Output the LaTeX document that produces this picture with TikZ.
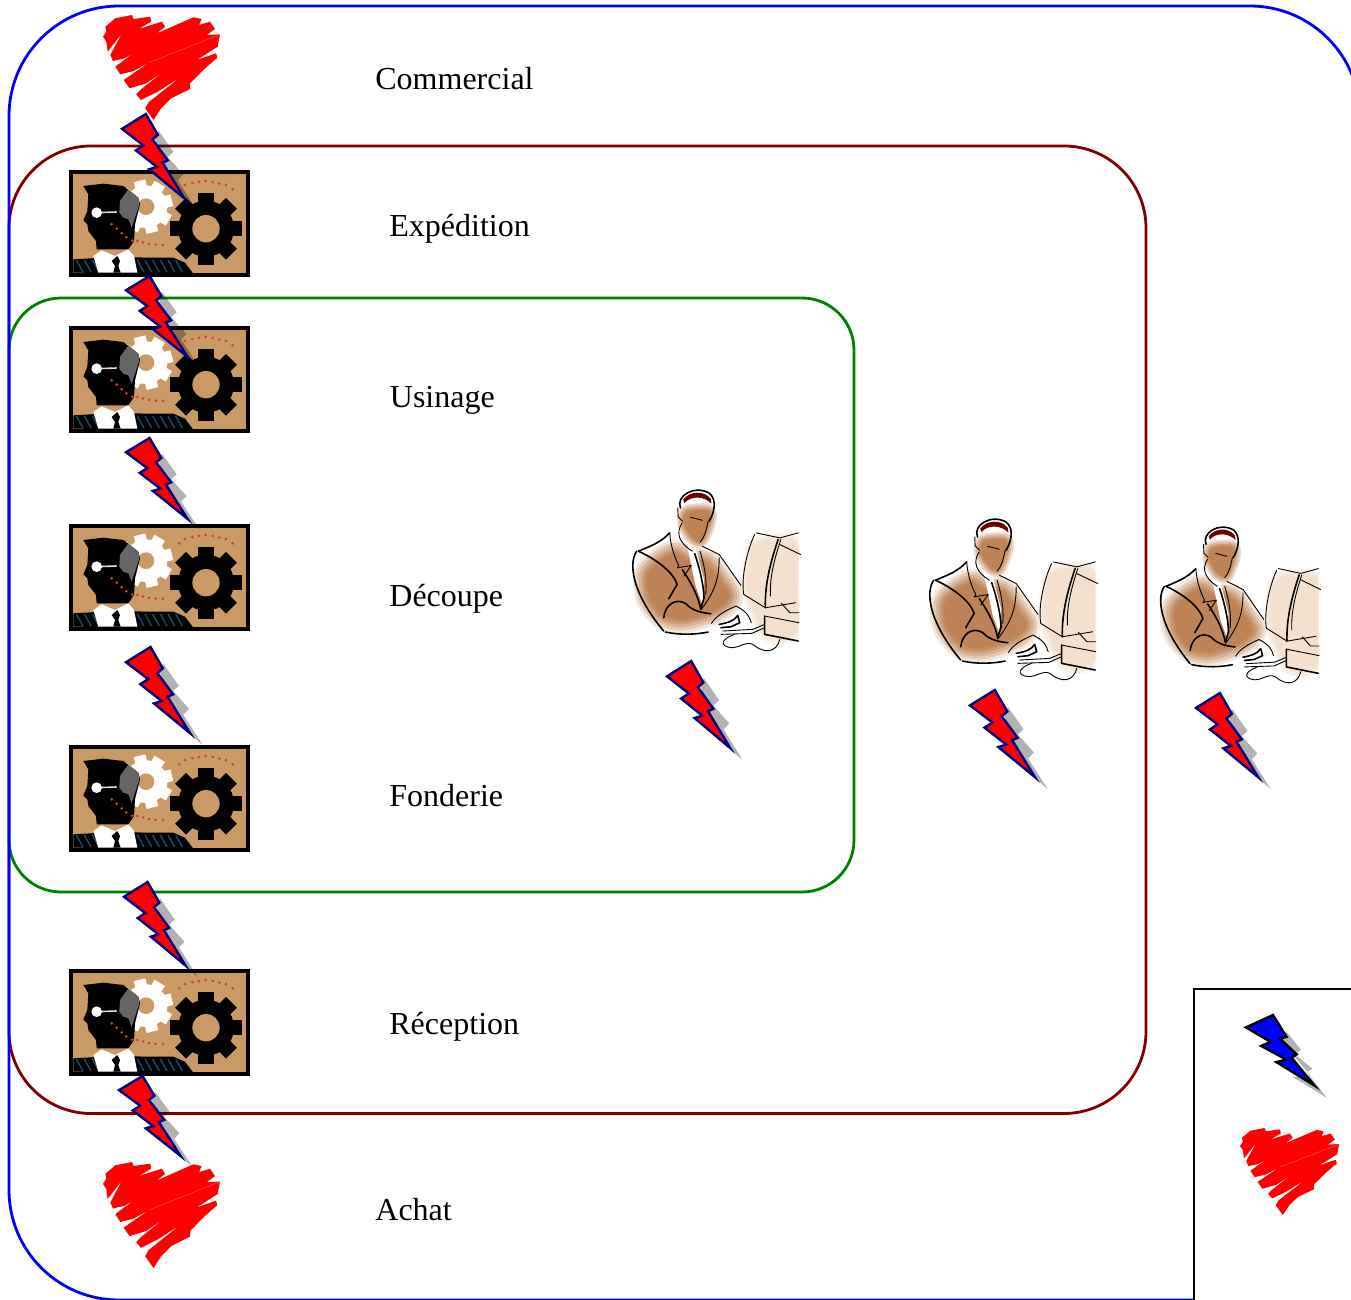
\documentclass[tikz,border=0pt]{standalone}
\usepackage{fontspec}
\setmainfont{Liberation Serif}
\definecolor{frameblue}{HTML}{0000FF}
\definecolor{framered}{HTML}{800000}
\definecolor{framegreen}{HTML}{008000}
\definecolor{tan}{HTML}{C99966}
\definecolor{skin}{HTML}{BE8457}
\definecolor{pale}{HTML}{F3E0CE}
\definecolor{dotred}{HTML}{D4402F}
\definecolor{hatchblue}{HTML}{14506C}
\tikzset{
  region/.style={line width=1.4pt,rounded corners=#1},
  label/.style={anchor=base west,inner sep=0pt,font=\fontsize{16}{18}\selectfont},
  ink/.style={black,line width=0.45pt,line cap=round,line join=round},
  inkb/.style={black,line width=0.8pt,line cap=round,line join=round},
}
% x0,y0,w,h : bounding box in pixels
\newcommand{\redbolt}[4]{%
  \begin{scope}[shift={(#1,#2)},xscale=#3/220,yscale=#4/284]
    \fill[black,opacity=.3] (110,50)--(155,115)--(138,130)--(185,183)--(168,200)--(225,290)--(150,225)--(100,75)--cycle;
    \filldraw[fill=red,draw=blue!50!black,line width=1.2pt,line join=miter]
      (0,45)--(72,0)--(108,63)--(92,77)--(138,140)--(122,147)--(188,255)--(82,167)--(105,160)--(42,110)--(65,95)--cycle;
  \end{scope}}
\newcommand{\bluebolt}[4]{%
  \begin{scope}[shift={(#1,#2)},xscale=#3/240,yscale=#4/247]
    \fill[black,opacity=.3] (120,50)--(163,103)--(145,117)--(197,160)--(180,170)--(240,247)--(140,185)--(190,180)--(100,70)--cycle;
    \filldraw[fill=blue,draw=black,line width=1.2pt,line join=miter]
      (0,37)--(80,0)--(120,65)--(100,70)--(150,117)--(135,127)--(203,210)--(90,140)--(120,133)--(45,92)--(73,80)--cycle;
  \end{scope}}
\newcommand{\heart}[4]{%
  \begin{scope}[shift={(#1,#2)},xscale=#3/355,yscale=#4/315]
    \fill[red,line join=round] (7,35)--(37,10)--(87,0)--(92,12)--(142,5)--(145,20)--(107,42)--(177,20)--(187,35)--(162,55)--(272,7)--(297,12)--(289,30)--(322,20)--(337,42)--(312,60)--(352,58)--(345,95)--(282,135)--(340,115)--(344,128)--(307,160)--(262,205)--(262,222)--(205,250)--(175,280)--(152,315)--(127,280)--(137,262)--(232,187)--(165,230)--(114,255)--(100,238)--(112,225)--(184,168)--(130,205)--(80,220)--(62,195)--(140,142)--(92,168)--(52,178)--(37,155)--(94,113)--(65,130)--(30,138)--(22,120)--(57,55)--(14,110)--(10,80)--(0,65)--(10,50)--cycle;
    \draw[white,opacity=.3,line width=.3pt] (140,142)--(354,58);
  \end{scope}}
\newcommand{\gearshape}[9]{% cx cy R body hole toothhalf colour holecolour offset
  \foreach \a in {0,45,...,315}{\fill[#7,rotate around={\a+#9:(#1,#2)}] (#1-#6,#2) rectangle (#1+#6,#2-#3);}
  \fill[#7] (#1,#2) circle (#4);
  \fill[#8] (#1,#2) circle (#5);}
\newcommand{\machine}[2]{%
  \begin{scope}[shift={(#1,#2)},scale=1/3]
    \fill[black] (0,0) rectangle (543,320);
    \fill[tan] (12,12) rectangle (531,308);
    \gearshape{231}{110}{80}{64}{25}{18}{white}{tan}{14}
    \gearshape{411}{176}{108}{84}{41}{23}{black}{tan}{0}
    \foreach \p in {(331,58),(348,45),(370,39),(390,36),(410,33),(431,36),(451,41),(471,45),(491,58)}{\fill[dotred] \p circle (4.5);}
    \fill[black] (13,268)--(120,262)--(313,263)--(348,278)--(373,311)--(13,308)--cycle;
    \foreach \q in {22,46,70,205,228,251,274,297,320}{\draw[hatchblue,line width=.7pt] (\q,270)--(\q+20,306);}
    \fill[black] (43,48)--(103,41)--(163,48)--(208,83)--(213,103)--(198,163)--(195,213)--(178,238)--(83,238)--(81,213)--(58,183)--(55,163)--(43,151)--(55,123)--(58,73)--cycle;
    \fill[white] (73,258)--(98,241)--(138,258)--(178,238)--(195,258)--(205,308)--(88,308)--cycle;
    \fill[black] (128,273)--(145,258)--(153,273)--(148,288)--(155,308)--(133,308)--(138,288)--cycle;
    \fill[black!60] (153,93)--(178,58)--(208,83)--(211,103)--(198,143)--(188,173)--(178,148)--(163,143)--(151,128)--cycle;
    \draw[white!75!gray,line width=.8pt] (83,128)--(143,126);
    \fill[white] (83,128) circle (16);
    \foreach \p in {(128,163),(143,176),(158,190),(172,202),(190,212),(205,213),(222,217),(240,222),(260,224),(282,225)}{\fill[dotred] \p circle (4.5);}
  \end{scope}}
\newcommand{\softblob}[2]{%
  \foreach \w/\c in {14/20,11/42,8/62,5/80,2.5/92}{\draw[#1!\c!white,line width=\w pt,line join=round] plot[smooth cycle] coordinates {#2};}
  \fill[#1] plot[smooth cycle] coordinates {#2};}
\newcommand{\softthin}[2]{%
  \foreach \w/\c in {7/30,5/55,3/75,1.5/90}{\draw[#1!\c!white,line width=\w pt,line join=round] plot[smooth cycle] coordinates {#2};}
  \fill[#1] plot[smooth cycle] coordinates {#2};}
\newcommand{\worker}[4]{%
  \begin{scope}[shift={(#1,#2)},xscale=#3/505,yscale=#4/490,shift={(-30,-28)}]
    \begin{scope}
      \clip (340,150) rectangle (530,500);
      \softthin{pale}{(405,195) (520,190) (545,330) (520,460) (440,468) (395,375) (380,300)}
    \end{scope}
    \softblob{skin}{(82,285) (120,245) (165,222) (205,245) (255,250) (305,315) (325,352) (295,385) (245,405) (185,420) (130,408) (88,355)}
    \softthin{skin}{(198,98) (262,94) (264,130) (242,182) (218,176) (192,135)}
    \fill[white] (198,190)--(225,205)--(250,300)--(245,375)--(225,320)--cycle;
    \fill[black!30!red!60!black] (188,60) .. controls (205,35) and (250,30) .. (270,58) -- (272,72) .. controls (250,48) and (210,48) .. (192,70) -- cycle;
    \draw[inkb] (180,85) .. controls (165,50) and (220,15) .. (265,40) .. controls (290,60) and (280,100) .. (265,125);
    \draw[ink] (172,85) -- (173,112) -- (186,125);
    \draw[ink] (262,125) .. controls (255,160) and (250,175) .. (238,188);
    \draw[ink] (210,113) -- (245,122);
    \draw[ink] (185,130) .. controls (165,160) and (175,190) .. (215,215);
    \draw[inkb] (148,160) .. controls (120,190) and (90,200) .. (55,215);
    \draw[inkb] (50,215) .. controls (25,250) and (35,340) .. (130,455);
    \draw[inkb] (135,458) .. controls (180,468) and (230,465) .. (262,458);
    \draw[ink] (148,160) .. controls (150,200) and (165,240) .. (175,258) -- (170,265) -- (212,258) -- (190,290);
    \draw[inkb] (55,215) .. controls (110,240) and (160,280) .. (170,315) -- (145,358);
    \draw[inkb] (185,270) .. controls (205,300) and (230,340) .. (240,388);
    \draw[inkb] (222,222) .. controls (235,260) and (248,310) .. (250,355) -- (240,388);
    \draw[ink] (238,215) .. controls (255,270) and (258,310) .. (255,345);
    \draw[ink] (245,200) -- (295,225) .. controls (320,260) and (340,290) .. (360,318);
    \draw[ink] (295,235) .. controls (295,300) and (280,340) .. (240,392);
    \draw[inkb] (130,415) .. controls (135,375) and (165,355) .. (195,372) .. controls (215,395) and (245,400) .. (270,403);
    \draw[ink] (272,432) .. controls (285,410) and (310,395) .. (345,380) .. controls (375,395) and (385,410) .. (390,430);
    \draw[inkb] (295,435) .. controls (320,430) and (340,425) .. (350,408) -- (356,430) -- (330,442) -- (300,445);
    \draw[ink] (305,455) -- (395,450) -- (430,435);
    \draw[ink] (300,465) -- (392,462) -- (430,445);
    \draw[ink] (340,465) .. controls (300,480) and (295,500) .. (330,505) .. controls (360,505) and (370,485) .. (395,495) .. controls (430,525) and (465,520) .. (475,480);
    \draw[ink] (405,160) -- (475,175) -- (530,160);
    \draw[ink] (400,165) .. controls (375,220) and (360,300) .. (368,345) -- (432,385) -- (522,370);
    \draw[inkb] (470,180) .. controls (450,240) and (430,310) .. (432,385);
    \draw[ink] (475,195) -- (537,225);
    \draw[ink] (478,180) .. controls (455,250) and (445,300) .. (447,350);
    \draw[ink] (480,372) -- (505,400) -- (532,400);
    \draw[ink] (430,410) -- (532,430);
    \draw[inkb] (430,410) -- (430,465) -- (530,485);
  \end{scope}}
\begin{document}
\begin{tikzpicture}[x=0.5pt,y=-0.5pt]
  \useasboundingbox (0,0) rectangle (1351,1300);
  \clip (0,0) rectangle (1351,1300);
  \fill[white] (0,0) rectangle (1351,1300);
  % regions
  \draw[region=41pt,framered] (9,146) rectangle (1146,1113.5);
  \draw[region=26pt,framegreen] (9,298) rectangle (854,892);
  \draw[region=55pt,frameblue] (9,6) rectangle (1360,1300);
  % legend box
  \fill[white] (1194,989) rectangle (1360,1310);
  \draw[black,line width=1.1pt] (1360,989) -- (1194,989) -- (1194,1310);
  % hearts
  \heart{103}{15}{118}{105}
  \heart{103}{1162}{118}{106}
  \heart{1240}{1128}{100}{87}
  % machines
  \machine{69}{170}
  \machine{69}{326}
  \machine{69}{524}
  \machine{69}{745}
  \machine{69}{969}
  % workers
  \worker{630}{489}{170}{163}
  \worker{927}{518}{170}{163}
  \worker{1158}{526}{162}{158}
  % bolts
  \redbolt{122}{114}{73}{94}
  \redbolt{126}{276}{72}{90}
  \redbolt{126}{438}{72}{90}
  \redbolt{126}{647}{75}{96}
  \redbolt{667}{661}{74}{97}
  \redbolt{970}{690}{76}{97}
  \redbolt{1196}{693}{73}{94}
  \redbolt{124}{882}{72}{93}
  \redbolt{119}{1076}{72}{89}
  \bluebolt{1246}{1015}{81}{83}
  % labels
  \node[label] (commercial) at (375,90) {Commercial};
  \node[label] (expedition) at (389,237) {Expédition};
  \node[label] (usinage) at (389.5,408) {Usinage};
  \node[label] (decoupe) at (389,606.5) {Découpe};
  \node[label] (fonderie) at (389,806.5) {Fonderie};
  \node[label] (reception) at (389,1034.5) {Réception};
  \node[label] (achat) at (375,1220.5) {Achat};
\end{tikzpicture}
\end{document}
